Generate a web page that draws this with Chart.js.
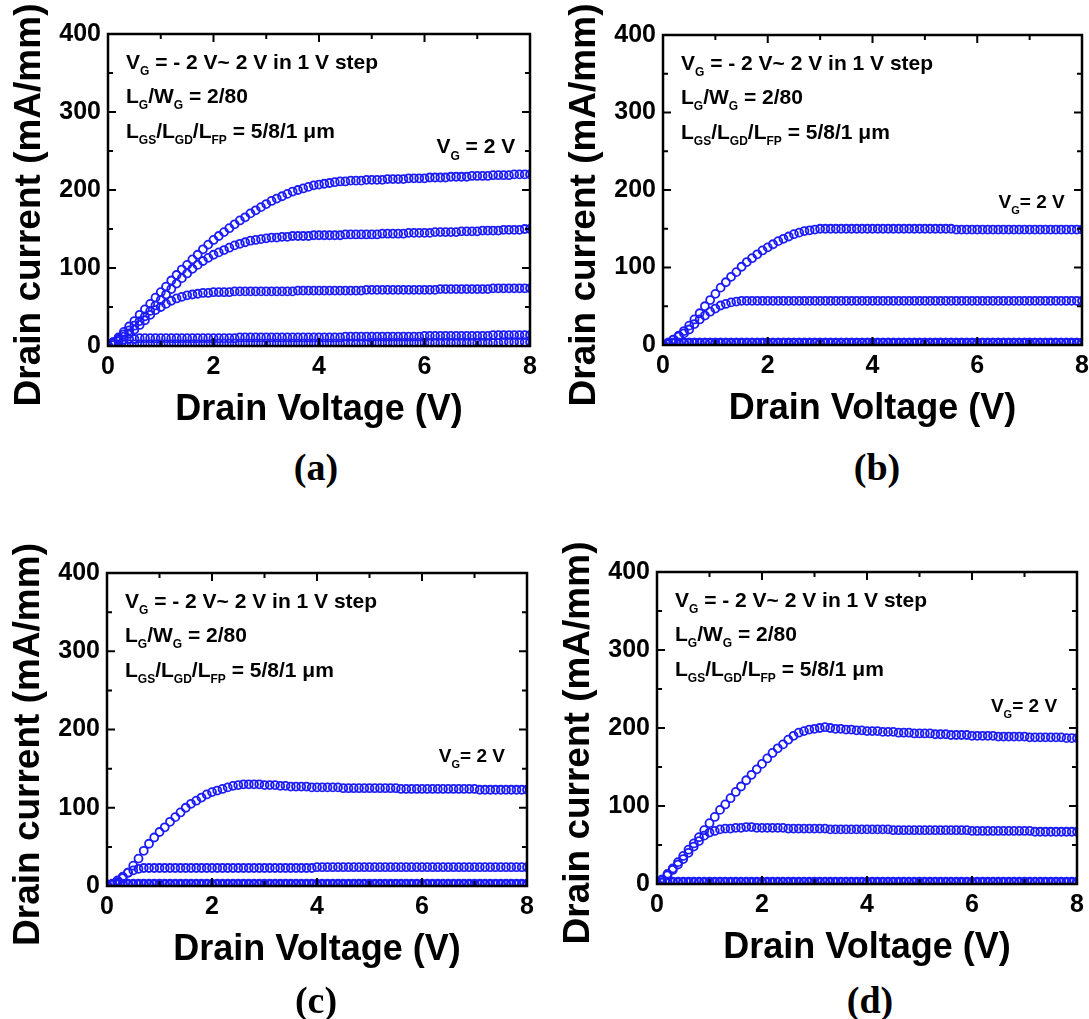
<!DOCTYPE html>
<html>
<head>
<meta charset="utf-8">
<title>HEMT output characteristics</title>
<script src="https://cdn.jsdelivr.net/npm/chart.js@4.4.1/dist/chart.umd.min.js"></script>
<style>
  html, body { margin: 0; padding: 0; background: #fff; overflow: hidden; }
  body { width: 1089px; height: 1019px; position: relative; }
  canvas { position: absolute; }
  .caption {
    position: absolute;
    font: bold 38px "Liberation Serif", "Times New Roman", serif;
    color: #000;
    transform: translate(-50%, -50%);
    white-space: nowrap;
  }
</style>
</head>
<body>
<script>
// Drain voltage sweep (V), shared by every curve
const drainVoltage = [
  0.0, 0.1, 0.2, 0.3, 0.4, 0.5, 0.6, 0.7, 0.8, 0.9,
  1.0, 1.1, 1.2, 1.3, 1.4, 1.5, 1.6, 1.7, 1.8, 1.9,
  2.0, 2.1, 2.2, 2.3, 2.4, 2.5, 2.6, 2.7, 2.8, 2.9,
  3.0, 3.1, 3.2, 3.3, 3.4, 3.5, 3.6, 3.7, 3.8, 3.9,
  4.0, 4.1, 4.2, 4.3, 4.4, 4.5, 4.6, 4.7, 4.8, 4.9,
  5.0, 5.1, 5.2, 5.3, 5.4, 5.5, 5.6, 5.7, 5.8, 5.9,
  6.0, 6.1, 6.2, 6.3, 6.4, 6.5, 6.6, 6.7, 6.8, 6.9,
  7.0, 7.1, 7.2, 7.3, 7.4, 7.5, 7.6, 7.7, 7.8, 7.9,
  8.0
];

const xTicks = { min: 0, max: 8, step: 2 };
const yTicks = { min: 0, max: 400, step: 100 };

// ---- device (a): drain current in mA/mm, VG = 2, 1, 0, -1, -2 V ----
const devA_vg2 = [
  0, 5, 11, 18, 25, 32, 40, 47, 54, 62,
  69, 76, 84, 91, 98, 104, 111, 117, 124, 130,
  136, 141, 146, 151, 156, 161, 165, 170, 174, 178,
  182, 186, 189, 192, 195, 198, 200, 202, 204, 206,
  207, 208, 209, 210, 211, 211, 212, 212, 212, 213,
  213, 213, 213, 214, 214, 214, 214, 215, 215, 215,
  215, 216, 216, 216, 216, 217, 217, 217, 217, 218,
  218, 218, 218, 219, 219, 219, 219, 220, 220, 220,
  220
];
const devA_vg1 = [
  0, 5, 10, 15, 20, 26, 32, 38, 45, 52,
  59, 66, 73, 80, 87, 93, 99, 104, 109, 113,
  117, 120, 123, 126, 129, 131, 133, 135, 136, 137,
  138, 139, 139, 140, 140, 141, 141, 141, 141, 142,
  142, 142, 142, 142, 142, 143, 143, 143, 143, 143,
  143, 143, 144, 144, 144, 144, 144, 145, 145, 145,
  145, 145, 146, 146, 146, 146, 146, 147, 147, 147,
  147, 148, 148, 148, 148, 149, 149, 149, 149, 150,
  150
];
const devA_vg0 = [
  0, 4, 8, 12, 16, 21, 27, 33, 40, 46,
  50, 54, 58, 61, 63, 65, 66, 67, 68, 68,
  69, 69, 69, 69, 70, 70, 70, 70, 70, 70,
  70, 70, 70, 70, 70, 70, 71, 71, 71, 71,
  71, 71, 71, 71, 71, 71, 71, 71, 71, 72,
  72, 72, 72, 72, 72, 72, 72, 72, 72, 72,
  72, 72, 72, 73, 73, 73, 73, 73, 73, 73,
  73, 73, 73, 74, 74, 74, 74, 74, 74, 74,
  74
];
const devA_vgm1 = [
  0, 3, 6, 8, 9, 9, 10, 10, 10, 10,
  10, 10, 10, 10, 10, 10, 10, 10, 10, 10,
  10, 10, 10, 10, 10, 11, 11, 11, 11, 11,
  11, 11, 11, 11, 11, 11, 11, 11, 11, 11,
  11, 11, 11, 11, 11, 12, 12, 12, 12, 12,
  12, 12, 12, 12, 12, 12, 12, 12, 12, 12,
  13, 13, 13, 13, 13, 13, 13, 13, 13, 13,
  13, 13, 13, 14, 14, 14, 14, 14, 14, 14,
  14
];
const devA_vgm2 = [
  0, 1, 2, 2, 2, 2, 2, 2, 2, 2,
  2, 2, 2, 2, 2, 2, 2, 2, 2, 2,
  3, 3, 3, 3, 3, 3, 3, 3, 3, 3,
  3, 3, 3, 3, 3, 3, 3, 3, 3, 3,
  3, 3, 3, 3, 3, 3, 3, 3, 3, 3,
  4, 4, 4, 4, 4, 4, 4, 4, 4, 4,
  4, 4, 4, 4, 4, 4, 4, 4, 4, 4,
  4, 4, 4, 4, 4, 5, 5, 5, 5, 5,
  5
];

// ---- device (b) ----
const devB_vg2 = [
  0, 3, 7, 12, 18, 25, 33, 41, 50, 58,
  66, 74, 81, 88, 94, 101, 107, 112, 117, 122,
  126, 130, 134, 137, 140, 143, 145, 147, 148, 149,
  150, 150, 150, 150, 150, 150, 150, 150, 150, 150,
  150, 150, 150, 150, 150, 150, 150, 150, 150, 150,
  150, 150, 150, 150, 150, 150, 149, 149, 149, 149,
  149, 149, 149, 149, 149, 149, 149, 149, 149, 149,
  149, 149, 149, 149, 149, 149, 149, 149, 149, 149,
  149
];
const devB_vg1 = [
  0, 3, 7, 11, 15, 20, 27, 33, 38, 43,
  47, 51, 53, 55, 56, 57, 57, 57, 57, 57,
  57, 57, 57, 57, 57, 57, 57, 57, 57, 57,
  57, 57, 57, 57, 57, 57, 57, 57, 57, 57,
  57, 57, 57, 57, 57, 57, 57, 57, 57, 57,
  57, 57, 57, 57, 57, 57, 57, 57, 57, 57,
  57, 57, 57, 57, 57, 57, 57, 57, 57, 57,
  57, 57, 57, 57, 57, 57, 57, 57, 57, 57,
  57
];
const devB_vg0 = [
  0, 2, 3, 3, 3, 3, 3, 3, 3, 3,
  3, 3, 3, 3, 3, 3, 3, 3, 3, 3,
  3, 3, 3, 3, 3, 3, 3, 3, 3, 3,
  3, 3, 3, 3, 3, 3, 3, 3, 3, 3,
  3, 3, 3, 3, 3, 3, 3, 3, 3, 3,
  3, 3, 3, 3, 3, 3, 3, 3, 3, 3,
  3, 3, 3, 3, 3, 3, 3, 3, 3, 3,
  3, 3, 3, 3, 3, 3, 3, 3, 3, 3,
  3
];
const devB_vgm1 = [
  0, 2, 3, 3, 3, 3, 3, 3, 3, 3,
  3, 3, 3, 3, 3, 3, 3, 3, 3, 3,
  3, 3, 3, 3, 3, 3, 3, 3, 3, 3,
  3, 3, 3, 3, 3, 3, 3, 3, 3, 3,
  3, 3, 3, 3, 3, 3, 3, 3, 3, 3,
  3, 3, 3, 3, 3, 3, 3, 3, 3, 3,
  3, 3, 3, 3, 3, 3, 3, 3, 3, 3,
  3, 3, 3, 3, 3, 3, 3, 3, 3, 3,
  3
];
const devB_vgm2 = [
  0, 1, 2, 2, 2, 2, 2, 2, 2, 2,
  2, 2, 2, 2, 2, 2, 2, 2, 2, 2,
  2, 2, 2, 2, 2, 2, 2, 2, 2, 2,
  2, 2, 2, 2, 2, 2, 2, 2, 2, 2,
  2, 2, 2, 2, 2, 2, 2, 2, 2, 2,
  2, 2, 2, 2, 2, 2, 2, 2, 2, 2,
  2, 2, 2, 2, 2, 2, 2, 2, 2, 2,
  2, 2, 2, 2, 2, 2, 2, 2, 2, 2,
  2
];

// ---- device (c) ----
const devC_vg2 = [
  2, 2, 5, 10, 17, 26, 35, 45, 54, 62,
  69, 75, 82, 88, 94, 100, 105, 109, 113, 117,
  120, 122, 124, 126, 128, 129, 130, 130, 130, 130,
  129, 129, 129, 128, 128, 127, 127, 127, 127, 126,
  126, 126, 126, 126, 126, 125, 125, 125, 125, 125,
  125, 125, 125, 125, 125, 125, 124, 124, 124, 124,
  124, 124, 124, 124, 124, 124, 124, 124, 124, 124,
  124, 123, 123, 123, 123, 123, 123, 123, 123, 123,
  123
];
const devC_vg1 = [
  1, 3, 7, 12, 17, 20, 22, 23, 23, 23,
  23, 23, 23, 23, 23, 23, 23, 23, 23, 23,
  23, 23, 23, 23, 23, 23, 23, 23, 23, 23,
  23, 23, 23, 23, 23, 23, 23, 23, 23, 23,
  24, 24, 24, 24, 24, 24, 24, 24, 24, 24,
  24, 24, 24, 24, 24, 24, 24, 24, 24, 24,
  24, 24, 24, 24, 24, 24, 24, 24, 24, 24,
  24, 24, 24, 24, 24, 24, 24, 24, 24, 24,
  24
];
const devC_vg0 = [
  0, 2, 3, 3, 3, 3, 3, 3, 3, 3,
  3, 3, 3, 3, 3, 3, 3, 3, 3, 3,
  3, 3, 3, 3, 3, 3, 3, 3, 3, 3,
  3, 3, 3, 3, 3, 3, 3, 3, 3, 3,
  3, 3, 3, 3, 3, 3, 3, 3, 3, 3,
  3, 3, 3, 3, 3, 3, 3, 3, 3, 3,
  3, 3, 3, 3, 3, 3, 3, 3, 3, 3,
  3, 3, 3, 3, 3, 3, 3, 3, 3, 3,
  3
];
const devC_vgm1 = [
  0, 2, 2, 2, 2, 2, 2, 2, 2, 2,
  2, 2, 2, 2, 2, 2, 2, 2, 2, 2,
  2, 2, 2, 2, 2, 2, 2, 2, 2, 2,
  2, 2, 2, 2, 2, 2, 2, 2, 2, 2,
  2, 2, 2, 2, 2, 2, 2, 2, 2, 2,
  2, 2, 2, 2, 2, 2, 2, 2, 2, 2,
  2, 2, 2, 2, 2, 2, 2, 2, 2, 2,
  2, 2, 2, 2, 2, 2, 2, 2, 2, 2,
  2
];
const devC_vgm2 = [
  0, 2, 2, 2, 2, 2, 2, 2, 2, 2,
  2, 2, 2, 2, 2, 2, 2, 2, 2, 2,
  2, 2, 2, 2, 2, 2, 2, 2, 2, 2,
  2, 2, 2, 2, 2, 2, 2, 2, 2, 2,
  2, 2, 2, 2, 2, 2, 2, 2, 2, 2,
  2, 2, 2, 2, 2, 2, 2, 2, 2, 2,
  2, 2, 2, 2, 2, 2, 2, 2, 2, 2,
  2, 2, 2, 2, 2, 2, 2, 2, 2, 2,
  2
];

// ---- device (d) ----
const devD_vg2 = [
  1, 6, 13, 20, 28, 36, 44, 52, 60, 69,
  78, 86, 95, 102, 110, 118, 125, 133, 140, 147,
  154, 161, 168, 174, 179, 185, 190, 194, 196, 198,
  199, 200, 201, 200, 199, 199, 198, 198, 197, 197,
  196, 196, 196, 195, 195, 195, 194, 194, 194, 193,
  193, 193, 193, 192, 192, 192, 191, 191, 191, 191,
  190, 190, 190, 190, 190, 189, 189, 189, 189, 189,
  189, 188, 188, 188, 188, 188, 188, 188, 187, 187,
  187
];
const devD_vg1 = [
  1, 5, 11, 18, 25, 32, 40, 48, 55, 62,
  66, 68, 70, 71, 71, 72, 72, 73, 73, 72,
  72, 72, 72, 72, 72, 71, 71, 71, 71, 71,
  71, 71, 71, 70, 70, 70, 70, 70, 70, 70,
  70, 70, 70, 70, 70, 69, 69, 69, 69, 69,
  69, 69, 69, 69, 69, 69, 69, 69, 69, 69,
  68, 68, 68, 68, 68, 68, 68, 68, 68, 68,
  68, 68, 67, 67, 67, 67, 67, 67, 67, 67,
  67
];
const devD_vg0 = [
  0, 2, 3, 3, 3, 3, 3, 3, 3, 3,
  3, 3, 3, 3, 3, 3, 3, 3, 3, 3,
  3, 3, 3, 3, 3, 3, 3, 3, 3, 3,
  3, 3, 3, 3, 3, 3, 3, 3, 3, 3,
  3, 3, 3, 3, 3, 3, 3, 3, 3, 3,
  3, 3, 3, 3, 3, 3, 3, 3, 3, 3,
  3, 3, 3, 3, 3, 3, 3, 3, 3, 3,
  3, 3, 3, 3, 3, 3, 3, 3, 3, 3,
  3
];
const devD_vgm1 = [
  0, 2, 2, 2, 2, 2, 2, 2, 2, 2,
  2, 2, 2, 2, 2, 2, 2, 2, 2, 2,
  2, 2, 2, 2, 2, 2, 2, 2, 2, 2,
  2, 2, 2, 2, 2, 2, 2, 2, 2, 2,
  2, 2, 2, 2, 2, 2, 2, 2, 2, 2,
  2, 2, 2, 2, 2, 2, 2, 2, 2, 2,
  2, 2, 2, 2, 2, 2, 2, 2, 2, 2,
  2, 2, 2, 2, 2, 2, 2, 2, 2, 2,
  2
];
const devD_vgm2 = [
  0, 2, 2, 2, 2, 2, 2, 2, 2, 2,
  2, 2, 2, 2, 2, 2, 2, 2, 2, 2,
  2, 2, 2, 2, 2, 2, 2, 2, 2, 2,
  2, 2, 2, 2, 2, 2, 2, 2, 2, 2,
  2, 2, 2, 2, 2, 2, 2, 2, 2, 2,
  2, 2, 2, 2, 2, 2, 2, 2, 2, 2,
  2, 2, 2, 2, 2, 2, 2, 2, 2, 2,
  2, 2, 2, 2, 2, 2, 2, 2, 2, 2,
  2
];

// ---- styling ----
const FONT = '"Liberation Sans", Arial, Helvetica, sans-serif';
const BLUE = 'rgb(28, 28, 250)';
const AXIS_W = 108;   // room left of the plot box for tick labels + y title
const AXIS_H = 94;    // room under the plot box for tick labels + x title
const PAD_TOP = 34;
const PAD_RIGHT = 15;
const Y_TITLE = 'Drain current (mA/mm)';

// Text runs: [text, isSubscript]
const conditionLines = [
  [['V', 0], ['G', 1], [' = - 2 V~ 2 V in 1 V step', 0]],
  [['L', 0], ['G', 1], ['/W', 0], ['G', 1], [' = 2/80', 0]],
  [['L', 0], ['GS', 1], ['/L', 0], ['GD', 1], ['/L', 0], ['FP', 1], [' = 5/8/1 \u03BCm', 0]]
];

// plot box of each panel in page pixels: left, top, right, bottom
const panels = [
  { key: 'a', box: [108, 34, 530, 346], series: [devA_vg2, devA_vg1, devA_vg0, devA_vgm1, devA_vgm2],
    vg: { x: 7.72, y: 247, size: 21, runs: [['V', 0], ['G', 1], [' = 2 V', 0]] }, caption: [316, 467] },
  { key: 'b', box: [663, 35, 1082, 345], series: [devB_vg2, devB_vg1, devB_vg0, devB_vgm1, devB_vgm2],
    vg: { x: 7.67, y: 177, size: 19, runs: [['V', 0], ['G', 1], ['= 2 V', 0]] }, caption: [877, 467] },
  { key: 'c', box: [107, 573, 527, 886], series: [devC_vg2, devC_vg1, devC_vg0, devC_vgm1, devC_vgm2],
    vg: { x: 7.58, y: 158, size: 19, runs: [['V', 0], ['G', 1], ['= 2 V', 0]] }, caption: [316, 1000] },
  { key: 'd', box: [657, 572, 1077, 884], series: [devD_vg2, devD_vg1, devD_vg0, devD_vgm1, devD_vgm2],
    vg: { x: 7.62, y: 220, size: 19, runs: [['V', 0], ['G', 1], ['= 2 V', 0]] }, caption: [870, 1000] }
];

function drawRuns(ctx, runs, x, y, size, align) {
  const main = `bold ${size}px ${FONT}`;
  const sub = `bold ${Math.round(size * 0.56)}px ${FONT}`;
  let w = 0;
  runs.forEach(([t, s]) => { ctx.font = s ? sub : main; w += ctx.measureText(t).width; });
  let cx = align === 'right' ? x - w : x;
  runs.forEach(([t, s]) => {
    ctx.font = s ? sub : main;
    ctx.fillText(t, cx, s ? y + size * 0.3 : y);
    cx += ctx.measureText(t).width;
  });
}

// closed frame with inward major/minor ticks on all four sides
const framePlugin = {
  id: 'frame',
  afterDatasetsDraw(chart) {
    const { ctx, chartArea: a, scales: { x, y } } = chart;
    const marks = (scale) => {
      const vals = scale.ticks.map(t => t.value);
      const out = vals.map(v => ({ v, len: 8 }));
      for (let i = 0; i < vals.length - 1; i++) out.push({ v: (vals[i] + vals[i + 1]) / 2, len: 5 });
      return out;
    };
    ctx.save();
    ctx.strokeStyle = '#000';
    ctx.lineWidth = 2;
    ctx.beginPath();
    marks(x).forEach(({ v, len }) => {
      const px = x.getPixelForValue(v);
      ctx.moveTo(px, a.bottom); ctx.lineTo(px, a.bottom - len);
      ctx.moveTo(px, a.top); ctx.lineTo(px, a.top + len);
    });
    marks(y).forEach(({ v, len }) => {
      const py = y.getPixelForValue(v);
      ctx.moveTo(a.left, py); ctx.lineTo(a.left + len, py);
      ctx.moveTo(a.right, py); ctx.lineTo(a.right - len, py);
    });
    ctx.stroke();
    ctx.lineWidth = 2.5;
    ctx.strokeRect(a.left, a.top, a.right - a.left, a.bottom - a.top);
    ctx.restore();
  }
};

// bias conditions, the VG = 2 V tag and the current axis title
const notesPlugin = {
  id: 'notes',
  afterDraw(chart, args, opts) {
    const { ctx, chartArea: a, scales: { x, y } } = chart;
    ctx.save();
    ctx.fillStyle = '#000';
    ctx.textBaseline = 'alphabetic';
    ctx.textAlign = 'left';
    const baselines = [35, 69, 104];
    conditionLines.forEach((runs, i) => drawRuns(ctx, runs, a.left + 18, a.top + baselines[i], 21, 'left'));
    const vg = opts.vg;
    drawRuns(ctx, vg.runs, x.getPixelForValue(vg.x), y.getPixelForValue(vg.y), vg.size, 'right');

    // y title sits a little below the middle of the axis
    ctx.translate(a.left - 78, (a.top + a.bottom) / 2 + 15);
    ctx.rotate(-Math.PI / 2);
    ctx.font = `bold 37px ${FONT}`;
    ctx.textAlign = 'center';
    ctx.textBaseline = 'middle';
    ctx.fillText(Y_TITLE, 0, 0);
    ctx.restore();
  }
};

const tickFont = { family: FONT, size: 25, weight: 'bold' };
const titleFont = { family: FONT, size: 36, weight: 'bold' };

panels.forEach(p => {
  const [l, t, r, b] = p.box;
  const canvas = document.createElement('canvas');
  canvas.width = (r - l) + AXIS_W + PAD_RIGHT;
  canvas.height = (b - t) + PAD_TOP + AXIS_H;
  canvas.style.left = (l - AXIS_W) + 'px';
  canvas.style.top = (t - PAD_TOP) + 'px';
  document.body.appendChild(canvas);

  const cap = document.createElement('div');
  cap.className = 'caption';
  cap.textContent = '(' + p.key + ')';
  cap.style.left = p.caption[0] + 'px';
  cap.style.top = p.caption[1] + 'px';
  document.body.appendChild(cap);

  new Chart(canvas, {
    type: 'scatter',
    data: {
      datasets: p.series.map(ids => ({
        data: drainVoltage.map((v, i) => ({ x: v, y: ids[i] })),
        showLine: false,
        pointStyle: 'circle',
        pointRadius: 4,
        pointHoverRadius: 4,
        pointBorderWidth: 1.8,
        pointBorderColor: BLUE,
        pointBackgroundColor: 'rgba(0,0,0,0)'
      }))
    },
    options: {
      responsive: false,
      animation: false,
      events: [],
      layout: { padding: { top: PAD_TOP, right: PAD_RIGHT, left: 0, bottom: 0 } },
      plugins: {
        legend: { display: false },
        tooltip: { enabled: false },
        notes: { vg: p.vg }
      },
      scales: {
        x: {
          type: 'linear',
          position: 'bottom',
          min: xTicks.min,
          max: xTicks.max,
          ticks: { stepSize: xTicks.step, padding: 6, color: '#000', font: tickFont, maxRotation: 0 },
          grid: { display: false, drawTicks: false },
          border: { display: false },
          title: { display: true, text: 'Drain Voltage (V)', color: '#000', font: titleFont, padding: { top: 0, bottom: 8 } },
          afterFit: s => { s.height = AXIS_H; }
        },
        y: {
          type: 'linear',
          position: 'left',
          min: yTicks.min,
          max: yTicks.max,
          ticks: { stepSize: yTicks.step, padding: 7, color: '#000', font: tickFont },
          grid: { display: false, drawTicks: false },
          border: { display: false },
          title: { display: false },
          afterFit: s => { s.width = AXIS_W; }
        }
      }
    },
    plugins: [framePlugin, notesPlugin]
  });
});
</script>
</body>
</html>
